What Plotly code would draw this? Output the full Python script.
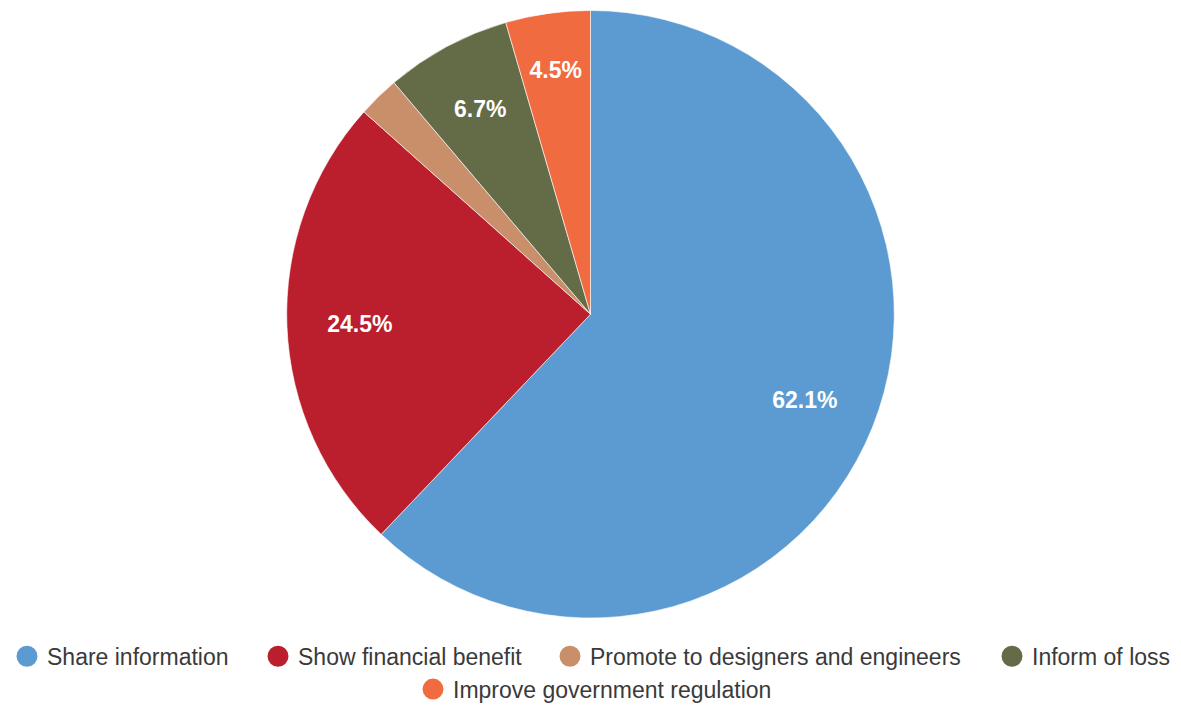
import plotly.graph_objects as go

# Survey answers and their shares (%)
labels = [
    "Share information",
    "Show financial benefit",
    "Promote to designers and engineers",
    "Inform of loss",
    "Improve government regulation",
]
values = [62.1, 24.5, 2.2, 6.7, 4.5]
colors = ["#5b9bd1", "#bb1e2c", "#c98f6b", "#636b47", "#f06b3f"]

W, H = 1181, 711
FONT = "Liberation Sans, Arial, sans-serif"
CX, CY, R = 590.5, 316, 305.5  # pie centre and radius in px


def domain_for(radius):
    return dict(x=[0, 1], y=[(H - CY - radius) / H, (H - CY + radius) / H])


def label_pie(text, hole, radius):
    """Transparent pie laid over the coloured one, used only to place labels."""
    return go.Pie(
        labels=labels,
        values=values,
        text=text,
        textinfo="text",
        textposition="inside",
        insidetextorientation="horizontal",
        textfont=dict(family=FONT, size=23, color="white", weight="bold"),
        marker=dict(colors=["rgba(0,0,0,0)"] * len(values), line=dict(width=0)),
        hole=hole,
        sort=False,
        direction="clockwise",
        rotation=0,
        showlegend=False,
        hoverinfo="skip",
        domain=domain_for(radius),
    )


fig = go.Figure()

# The coloured pie
fig.add_trace(go.Pie(
    labels=labels,
    values=values,
    textinfo="none",
    marker=dict(colors=colors, line=dict(color="rgba(255,255,255,0.6)", width=1)),
    sort=False,
    direction="clockwise",
    rotation=0,
    showlegend=False,
    hoverinfo="label+percent",
    domain=domain_for(R),
))

# Labels of the wide slices sit on a ring near the rim,
# labels of the narrow slices a little inside the rim; the tiniest has none
big_text = [f"{v:.1f}%" if v >= 10 else "" for v in values]
small_text = [f"{v:.1f}%" if 3 <= v < 10 else "" for v in values]
fig.add_trace(label_pie(big_text, 0.52, R))
fig.add_trace(label_pie(small_text, 0, 283))

# Legend entries: one per answer, laid out in two centred rows
legend_pos = [  # (text start x in px, row centre y in px)
    (47, 660), (298, 660), (590, 660), (1032, 660), (453, 693),
]
for i, (lab, col) in enumerate(zip(labels, colors)):
    name = "legend" if i == 0 else f"legend{i + 1}"
    fig.add_trace(go.Scatter(
        x=[None], y=[None], mode="markers", name=lab,
        marker=dict(symbol="circle", size=16, color=col,
                    line=dict(color=col, width=5)),
        legend=name, showlegend=True, hoverinfo="skip",
    ))
    tx, ty = legend_pos[i]
    fig.update_layout({name: dict(
        x=(tx - 40) / W, xanchor="left",
        y=(H - ty) / H, yanchor="middle",
        orientation="h",
        bgcolor="rgba(0,0,0,0)", borderwidth=0,
        font=dict(family=FONT, size=23, color="#3a3a3a"),
    )})

fig.update_layout(
    width=W, height=H,
    margin=dict(l=0, r=0, t=0, b=0),
    paper_bgcolor="white", plot_bgcolor="white",
    xaxis=dict(visible=False),
    yaxis=dict(visible=False),
)

fig.write_html("out.html")
